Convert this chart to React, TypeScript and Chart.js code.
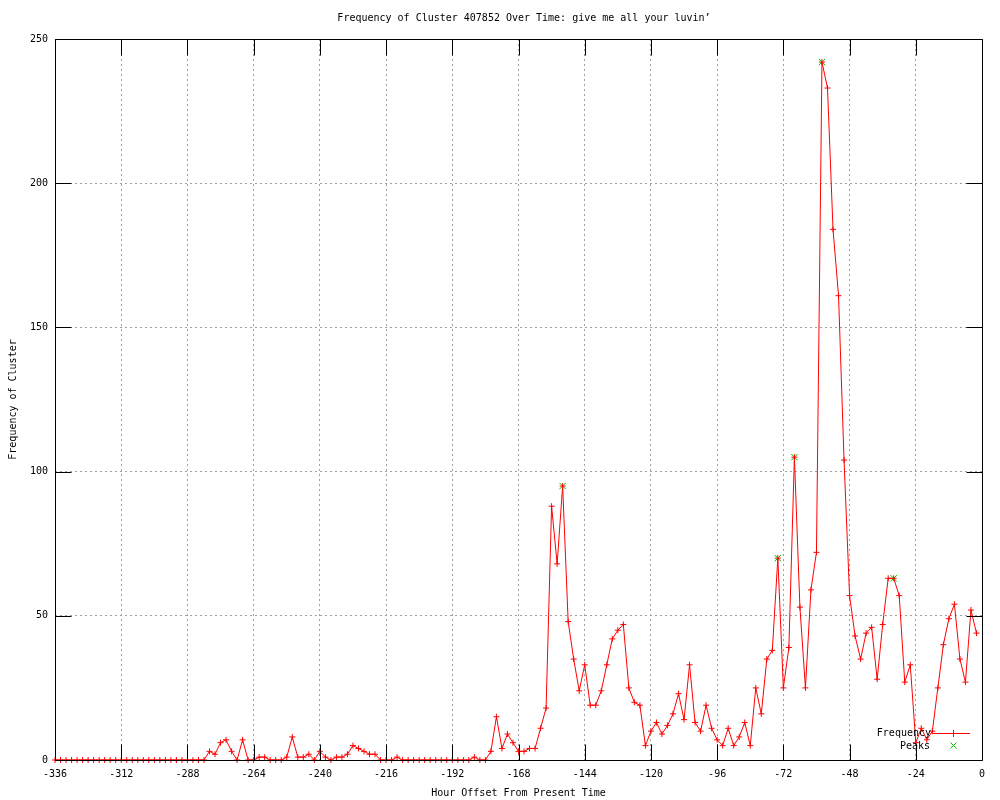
import React, { useEffect, useRef } from "react";
import { Chart, registerables } from "chart.js";

Chart.register(...registerables);

const titleText = "Frequency of Cluster 407852 Over Time: give me all your luvin\u2019";
const xTitle = "Hour Offset From Present Time";
const yTitle = "Frequency of Cluster";
const seriesName = "Frequency";
const peaksName = "Peaks";

const hours = [
  -336, -334, -332, -330, -328, -326, -324, -322, -320, -318, -316, -314,
  -312, -310, -308, -306, -304, -302, -300, -298, -296, -294, -292, -290,
  -288, -286, -284, -282, -280, -278, -276, -274, -272, -270, -268, -266,
  -264, -262, -260, -258, -256, -254, -252, -250, -248, -246, -244, -242,
  -240, -238, -236, -234, -232, -230, -228, -226, -224, -222, -220, -218,
  -216, -214, -212, -210, -208, -206, -204, -202, -200, -198, -196, -194,
  -192, -190, -188, -186, -184, -182, -180, -178, -176, -174, -172, -170,
  -168, -166, -164, -162, -160, -158, -156, -154, -152, -150, -148, -146,
  -144, -142, -140, -138, -136, -134, -132, -130, -128, -126, -124, -122,
  -120, -118, -116, -114, -112, -110, -108, -106, -104, -102, -100, -98,
  -96, -94, -92, -90, -88, -86, -84, -82, -80, -78, -76, -74,
  -72, -70, -68, -66, -64, -62, -60, -58, -56, -54, -52, -50,
  -48, -46, -44, -42, -40, -38, -36, -34, -32, -30, -28, -26,
  -24, -22, -20, -18, -16, -14, -12, -10, -8, -6, -4, -2,
];

const frequency = [
  0, 0, 0, 0, 0, 0, 0, 0, 0, 0, 0, 0,
  0, 0, 0, 0, 0, 0, 0, 0, 0, 0, 0, 0,
  0, 0, 0, 0, 3, 2, 6, 7, 3, 0, 7, 0,
  0, 1, 1, 0, 0, 0, 1, 8, 1, 1, 2, 0,
  3, 1, 0, 1, 1, 2, 5, 4, 3, 2, 2, 0,
  0, 0, 1, 0, 0, 0, 0, 0, 0, 0, 0, 0,
  0, 0, 0, 0, 1, 0, 0, 3, 15, 4, 9, 6,
  3, 3, 4, 4, 11, 18, 88, 68, 95, 48, 35, 24,
  33, 19, 19, 24, 33, 42, 45, 47, 25, 20, 19, 5,
  10, 13, 9, 12, 16, 23, 14, 33, 13, 10, 19, 11,
  7, 5, 11, 5, 8, 13, 5, 25, 16, 35, 38, 70,
  25, 39, 105, 53, 25, 59, 72, 242, 233, 184, 161, 104,
  57, 43, 35, 44, 46, 28, 47, 63, 63, 57, 27, 33,
  6, 11, 7, 10, 25, 40, 49, 54, 35, 27, 52, 44,
];

const peakHours = [-152, -74, -68, -58, -32];
const peakValues = [95, 70, 105, 242, 63];

const xMin = -336;
const xMax = 0;
const xStep = 24;
const yMin = 0;
const yMax = 250;
const yStep = 50;

const FONT = '10px "DejaVu Sans Mono", "Liberation Mono", monospace';
const RED = "rgb(255,0,0)";
const GREEN = "rgb(0,192,0)";

const decorPlugin = {
  id: "decor",
  afterDatasetsDraw(chart: any) {
    const { ctx, chartArea: a, scales } = chart;
    const xs = scales.x;
    const ys = scales.y;
    const L = Math.round(a.left) + 0.5;
    const R = Math.round(a.right) + 0.5;
    const T = Math.round(a.top) + 0.5;
    const B = Math.round(a.bottom) + 0.5;
    ctx.save();
    ctx.setLineDash([]);
    ctx.globalAlpha = 1;

    // legend sample lines
    ctx.lineWidth = 1;
    ctx.strokeStyle = RED;
    ctx.beginPath();
    ctx.moveTo(932, 733.5);
    ctx.lineTo(970, 733.5);
    ctx.moveTo(953.5, 730);
    ctx.lineTo(953.5, 737);
    ctx.stroke();
    ctx.strokeStyle = GREEN;
    ctx.beginPath();
    ctx.moveTo(950.5, 742.5);
    ctx.lineTo(956.5, 748.5);
    ctx.moveTo(956.5, 742.5);
    ctx.lineTo(950.5, 748.5);
    ctx.stroke();

    // frame and inward tics
    ctx.strokeStyle = "#000";
    ctx.lineWidth = 1;
    ctx.beginPath();
    ctx.rect(L, T, R - L, B - T);
    ctx.stroke();
    const tl = 16;
    ctx.beginPath();
    xs.ticks.forEach((t: any) => {
      const p = Math.round(xs.getPixelForValue(t.value)) + 0.5;
      ctx.moveTo(p, B);
      ctx.lineTo(p, B - tl);
      ctx.moveTo(p, T);
      ctx.lineTo(p, T + tl);
    });
    ys.ticks.forEach((t: any) => {
      const p = Math.round(ys.getPixelForValue(t.value)) + 0.5;
      ctx.moveTo(L, p);
      ctx.lineTo(L + tl, p);
      ctx.moveTo(R, p);
      ctx.lineTo(R - tl, p);
    });
    ctx.stroke();

    // texts
    ctx.fillStyle = "#000";
    ctx.font = FONT;
    ctx.textAlign = "center";
    ctx.textBaseline = "middle";
    ctx.fillText(titleText, 524, 18);
    ctx.fillText(xTitle, (a.left + a.right) / 2, 793);
    ctx.save();
    ctx.translate(13, (a.top + a.bottom) / 2);
    ctx.rotate(-Math.PI / 2);
    ctx.fillText(yTitle, 0, 0);
    ctx.restore();

    // legend texts
    ctx.textAlign = "right";
    ctx.fillText(seriesName, 931, 733);
    ctx.fillText(peaksName, 930, 746);
    ctx.restore();
  },
};

export default function App() {
  const ref = useRef<HTMLCanvasElement | null>(null);
  useEffect(() => {
    if (!ref.current) return;
    const chart = new Chart(ref.current, {
      type: "line",
      data: {
        datasets: [
          {
            label: seriesName,
            data: hours.map((h, i) => ({ x: h, y: frequency[i] })),
            borderColor: RED,
            backgroundColor: RED,
            borderWidth: 1,
            pointStyle: "cross",
            pointRadius: 3,
            pointBorderColor: RED,
            pointBorderWidth: 1,
            tension: 0,
            fill: false,
            clip: false,
          } as any,
          {
            label: peaksName,
            data: peakHours.map((h, i) => ({ x: h, y: peakValues[i] })),
            showLine: false,
            borderColor: GREEN,
            backgroundColor: GREEN,
            pointStyle: "crossRot",
            pointRadius: 4.5,
            pointBorderColor: GREEN,
            pointBorderWidth: 1,
            clip: false,
          } as any,
        ],
      },
      options: {
        responsive: false,
        animation: false,
        devicePixelRatio: 1,
        layout: { padding: { top: 39, right: 18, bottom: 0, left: 0 } },
        plugins: {
          legend: { display: false },
          tooltip: { enabled: false },
          title: { display: false },
        },
        scales: {
          x: {
            type: "linear",
            min: xMin,
            max: xMax,
            afterFit: (s: any) => {
              s.height = 40;
            },
            ticks: {
              stepSize: xStep,
              autoSkip: false,
              maxRotation: 0,
              padding: 8,
              color: "#000",
              font: { family: '"DejaVu Sans Mono", monospace', size: 10 },
            },
            grid: { color: "#a0a0a0", lineWidth: 1, drawTicks: false },
            border: { display: false, dash: [2, 3] },
          },
          y: {
            type: "linear",
            min: yMin,
            max: yMax,
            afterFit: (s: any) => {
              s.width = 55;
            },
            ticks: {
              stepSize: yStep,
              padding: 7,
              color: "#000",
              font: { family: '"DejaVu Sans Mono", monospace', size: 10 },
            },
            grid: { color: "#a0a0a0", lineWidth: 1, drawTicks: false },
            border: { display: false, dash: [2, 3] },
          },
        },
      },
      plugins: [decorPlugin],
    } as any);
    return () => chart.destroy();
  }, []);
  return (
    <div style={{ position: "absolute", left: 0, top: 0, width: 1000, height: 800, background: "#fff" }}>
      <canvas ref={ref} width={1000} height={800} style={{ display: "block" }} />
    </div>
  );
}
